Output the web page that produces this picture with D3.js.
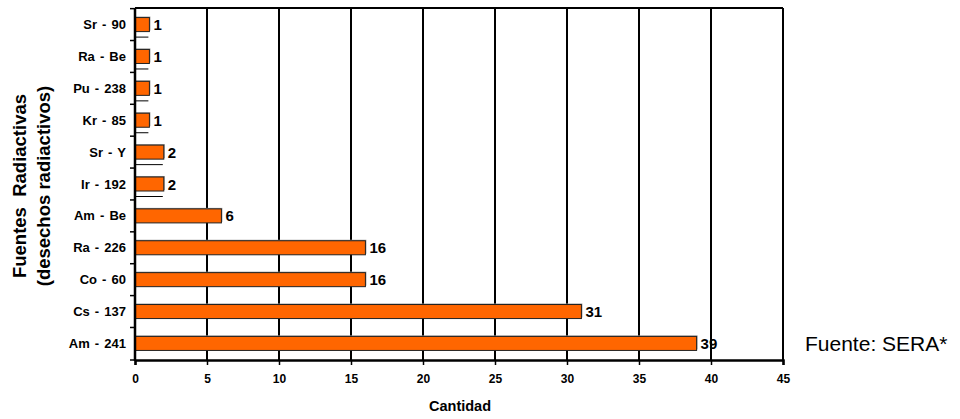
<!DOCTYPE html>
<html>
<head>
<meta charset="utf-8">
<script src="https://cdn.jsdelivr.net/npm/d3@7"></script>
<style>
  html, body { margin: 0; padding: 0; background: #fff; }
  svg { display: block; font-family: "Liberation Sans", Arial, sans-serif; }
</style>
</head>
<body>
<svg id="chart" width="960" height="419"></svg>
<script>
// Radioactive sources (waste) by isotope, top to bottom
const categories = ["Sr - 90", "Ra - Be", "Pu - 238", "Kr - 85", "Sr - Y", "Ir - 192",
                    "Am - Be", "Ra - 226", "Co - 60", "Cs - 137", "Am - 241"];
const values = [1, 1, 1, 1, 2, 2, 6, 16, 16, 31, 39];
const xTicks = [0, 5, 10, 15, 20, 25, 30, 35, 40, 45];

const svg = d3.select("#chart");
const m = { left: 135, right: 783, top: 8, bottom: 360 };

const x = d3.scaleLinear().domain([0, 45]).range([m.left, m.right]);
const y = d3.scaleBand().domain(categories).range([m.top, m.bottom]).paddingInner(0.56).paddingOuter(0.3);

// vertical gridlines
svg.append("g").selectAll("line").data(xTicks.slice(1)).join("line")
  .attr("x1", d => x(d)).attr("x2", d => x(d))
  .attr("y1", m.top).attr("y2", m.bottom)
  .attr("stroke", "#000").attr("stroke-width", 2);

// top frame line
svg.append("line").attr("x1", m.left).attr("x2", m.right)
  .attr("y1", m.top).attr("y2", m.top).attr("stroke", "#000").attr("stroke-width", 2);

// thin baseline strokes under the smallest bars
const smallIdx = categories.map((c, i) => i).filter(i => values[i] <= 2);
svg.append("g").selectAll("line").data(smallIdx).join("line")
  .attr("x1", m.left).attr("x2", i => x(values[i]) - 1)
  .attr("y1", i => y(categories[i]) + y.bandwidth() + 5.5)
  .attr("y2", i => y(categories[i]) + y.bandwidth() + 5.5)
  .attr("stroke", "#000").attr("stroke-width", 1);

// bar shadows
svg.append("g").selectAll("rect").data(categories).join("rect")
  .attr("x", m.left + 1).attr("y", d => y(d) - 1)
  .attr("width", (d, i) => x(values[i]) - m.left)
  .attr("height", y.bandwidth())
  .attr("fill", "#999");

// bars
svg.append("g").selectAll("rect").data(categories).join("rect")
  .attr("x", m.left).attr("y", d => y(d))
  .attr("width", (d, i) => x(values[i]) - m.left)
  .attr("height", y.bandwidth())
  .attr("fill", "#ff6600").attr("stroke", "#222").attr("stroke-width", 1);

// value labels
svg.append("g").selectAll("text").data(categories).join("text")
  .attr("x", (d, i) => x(values[i]) + 4)
  .attr("y", d => y(d) + y.bandwidth() / 2 + 5.5)
  .attr("font-size", 15).attr("font-weight", "bold")
  .text((d, i) => values[i]);

// x axis
const xAxis = d3.axisBottom(x).tickValues(xTicks).tickSize(5).tickPadding(9);
const gx = svg.append("g").attr("transform", `translate(0,${m.bottom})`).call(xAxis);
gx.select(".domain").attr("stroke-width", 2.5);
gx.selectAll(".tick line").attr("stroke-width", 1.5);
gx.selectAll("text").attr("font-size", 12).attr("font-weight", "bold")
  .attr("font-family", "Liberation Sans, Arial, sans-serif").attr("fill", "#000");

// y axis: ticks on category boundaries
const boundaries = categories.map(c => y(c) - y.step() * y.paddingInner() / 2).concat([m.bottom]);
svg.append("line").attr("x1", m.left).attr("x2", m.left)
  .attr("y1", m.top).attr("y2", m.bottom + 1).attr("stroke", "#000").attr("stroke-width", 2.5);
svg.append("g").selectAll("line").data(boundaries).join("line")
  .attr("x1", m.left - 5).attr("x2", m.left)
  .attr("y1", d => d).attr("y2", d => d)
  .attr("stroke", "#000").attr("stroke-width", 1.5);

// category labels
svg.append("g").selectAll("text").data(categories).join("text")
  .attr("x", 126).attr("y", d => y(d) + y.bandwidth() / 2 + 4.5)
  .attr("text-anchor", "end").attr("font-size", 13).attr("font-weight", "bold")
  .attr("word-spacing", 1.5)
  .attr("xml:space", "preserve")
  .text(d => d);

// axis titles
svg.append("text").attr("x", 460).attr("y", 411)
  .attr("text-anchor", "middle").attr("font-size", 14.5).attr("font-weight", "bold")
  .text("Cantidad");

const yt = svg.append("text").attr("transform", "translate(0,186) rotate(-90)")
  .attr("text-anchor", "middle").attr("font-size", 18.5).attr("font-weight", "bold");
yt.append("tspan").attr("x", 0).attr("y", 26).attr("xml:space", "preserve").text("Fuentes  Radiactivas");
yt.append("tspan").attr("x", 0).attr("y", 50).text("(desechos radiactivos)");

// source note
svg.append("text").attr("x", 805).attr("y", 351)
  .attr("font-size", 21).text("Fuente: SERA*");
</script>
</body>
</html>
